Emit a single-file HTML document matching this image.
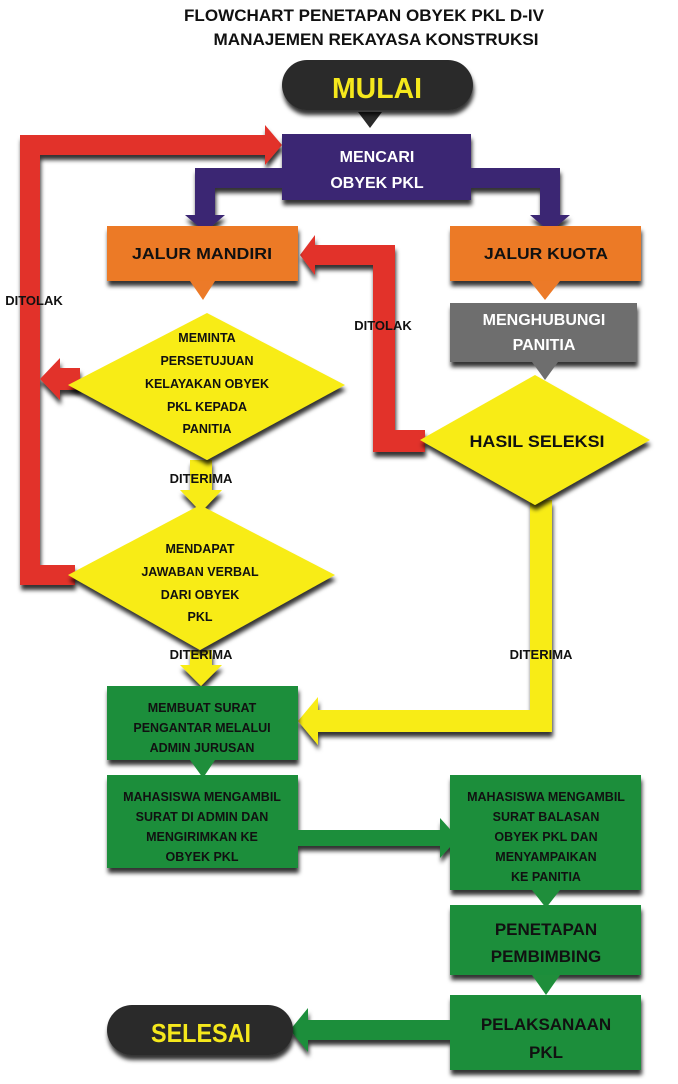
<!DOCTYPE html>
<html><head><meta charset="utf-8"><style>
body{margin:0;background:#fff;width:678px;height:1079px;overflow:hidden}
svg text{font-family:"Liberation Sans Narrow","Liberation Sans",sans-serif;font-weight:bold;text-anchor:middle}
</style></head><body>
<svg width="678" height="1079" viewBox="0 0 678 1079" xmlns="http://www.w3.org/2000/svg">
<defs><filter id="s" x="-10%" y="-10%" width="130%" height="140%"><feDropShadow dx="1" dy="5" stdDeviation="2" flood-color="#000" flood-opacity="0.8"/></filter></defs>
<text x="364" y="21" font-size="17" fill="#111" textLength="360" lengthAdjust="spacingAndGlyphs">FLOWCHART PENETAPAN OBYEK PKL D-IV</text>
<text x="376" y="45" font-size="17" fill="#111" textLength="325" lengthAdjust="spacingAndGlyphs">MANAJEMEN REKAYASA KONSTRUKSI</text>

<g fill="#e2332a" filter="url(#s)">
<path d="M20 135 H265 V125 L282 145 L265 165 V155 H40 V565 H75 V585 H20 Z"/>
<path d="M80 368 H60 V358 L40 379 L60 400 V390 H80 Z"/>
<path d="M373 265 H315 V275 L300 255 L315 235 V245 H395 V430 H425 V452 H373 Z"/>
</g>
<text x="34" y="305" font-size="13" fill="#111">DITOLAK</text>
<text x="383" y="330" font-size="13" fill="#111">DITOLAK</text>

<path d="M358 112 H382 L370 128 Z" fill="#2a2a2a"/>
<rect x="282" y="60" width="191" height="50" rx="25" fill="#2b2b2b" filter="url(#s)"/>
<text x="377" y="98" font-size="29" fill="#f5e81c" textLength="90" lengthAdjust="spacingAndGlyphs">MULAI</text>

<g fill="#3b2673" filter="url(#s)">
<path d="M195 168 H560 V215 H570 L550 232 L530 215 H540 V188 H215 V215 H225 L205 232 L185 215 H195 Z"/>
<rect x="282" y="134" width="189" height="66"/>
</g>
<text x="377" y="162" font-size="16" fill="#fff">MENCARI</text>
<text x="377" y="188" font-size="16" fill="#fff">OBYEK PKL</text>

<rect x="107" y="226" width="191" height="55" fill="#ec7a28" filter="url(#s)"/>
<rect x="450" y="226" width="191" height="55" fill="#ec7a28" filter="url(#s)"/>
<text x="202" y="259" font-size="16" fill="#111" textLength="140" lengthAdjust="spacingAndGlyphs">JALUR MANDIRI</text>
<text x="546" y="259" font-size="16" fill="#111" textLength="124" lengthAdjust="spacingAndGlyphs">JALUR KUOTA</text>
<path d="M190 281 H215 L203 300 Z M530 281 H560 L545 300 Z" fill="#ec7a28"/>

<rect x="450" y="303" width="187" height="59" fill="#6e6e6e" filter="url(#s)"/>
<text x="544" y="325" font-size="16" fill="#fff">MENGHUBUNGI</text>
<text x="544" y="350" font-size="16" fill="#fff">PANITIA</text>
<path d="M532 362 H558 L545 380 Z" fill="#6e6e6e"/>

<g fill="#f8ec16" filter="url(#s)">
<path d="M190 460 H212 V490 H222 L201 512 L180 490 H190 Z"/>
<path d="M190 650 H212 V665 H222 L201 686 L180 665 H190 Z"/>
<path d="M530 500 H552 V732 H318 V745 L298 721 L318 697 V710 H530 Z"/>
</g>
<g fill="#f8ec16" filter="url(#s)">
<path d="M207 313 L345 385 L207 460 L68 385 Z"/>
<path d="M200 505 L335 575 L200 650 L68 575 Z"/>
<path d="M535 375 L650 440 L535 505 L420 440 Z"/>
</g>
<g font-size="12.5" fill="#111">
<text x="207" y="342">MEMINTA</text>
<text x="207" y="365">PERSETUJUAN</text>
<text x="207" y="388">KELAYAKAN OBYEK</text>
<text x="207" y="411">PKL KEPADA</text>
<text x="207" y="433">PANITIA</text>
</g>
<g font-size="12.5" fill="#111">
<text x="200" y="553">MENDAPAT</text>
<text x="200" y="576">JAWABAN VERBAL</text>
<text x="200" y="599">DARI OBYEK</text>
<text x="200" y="621">PKL</text>
</g>
<text x="537" y="447" font-size="17" fill="#111" textLength="135" lengthAdjust="spacingAndGlyphs">HASIL SELEKSI</text>
<text x="201" y="483" font-size="13" fill="#111">DITERIMA</text>
<text x="201" y="659" font-size="13" fill="#111">DITERIMA</text>
<text x="541" y="659" font-size="13" fill="#111">DITERIMA</text>

<g fill="#1f8e3b" filter="url(#s)">
<path d="M298 830 H440 V818 L458 838 L440 858 V846 H298 Z"/>
<path d="M450 1020 H308 V1008 L290 1030 L308 1052 V1040 H450 Z"/>
<rect x="107" y="686" width="191" height="74"/>
<rect x="107" y="775" width="191" height="93"/>
<rect x="450" y="775" width="191" height="115"/>
<rect x="450" y="905" width="191" height="70"/>
<rect x="450" y="995" width="191" height="75"/>
</g>
<path d="M190 760 H215 L203 778 Z M532 890 H560 L546 908 Z M532 975 H560 L546 995 Z" fill="#1f8e3b"/>
<g font-size="12.5" fill="#111">
<text x="202" y="712">MEMBUAT SURAT</text>
<text x="202" y="732">PENGANTAR MELALUI</text>
<text x="202" y="752">ADMIN JURUSAN</text>
<text x="202" y="801">MAHASISWA MENGAMBIL</text>
<text x="202" y="821">SURAT DI ADMIN DAN</text>
<text x="202" y="841">MENGIRIMKAN KE</text>
<text x="202" y="861">OBYEK PKL</text>
<text x="546" y="801">MAHASISWA MENGAMBIL</text>
<text x="546" y="821">SURAT BALASAN</text>
<text x="546" y="841">OBYEK PKL DAN</text>
<text x="546" y="861">MENYAMPAIKAN</text>
<text x="546" y="881">KE PANITIA</text>
</g>
<text x="546" y="935" font-size="17" fill="#111">PENETAPAN</text>
<text x="546" y="962" font-size="17" fill="#111">PEMBIMBING</text>
<text x="546" y="1030" font-size="17" fill="#111">PELAKSANAAN</text>
<text x="546" y="1058" font-size="17" fill="#111">PKL</text>

<rect x="107" y="1005" width="186" height="50" rx="25" fill="#2b2b2b" filter="url(#s)"/>
<text x="201" y="1042" font-size="26" fill="#f5e81c" textLength="100" lengthAdjust="spacingAndGlyphs">SELESAI</text>
</svg>
</body></html>
